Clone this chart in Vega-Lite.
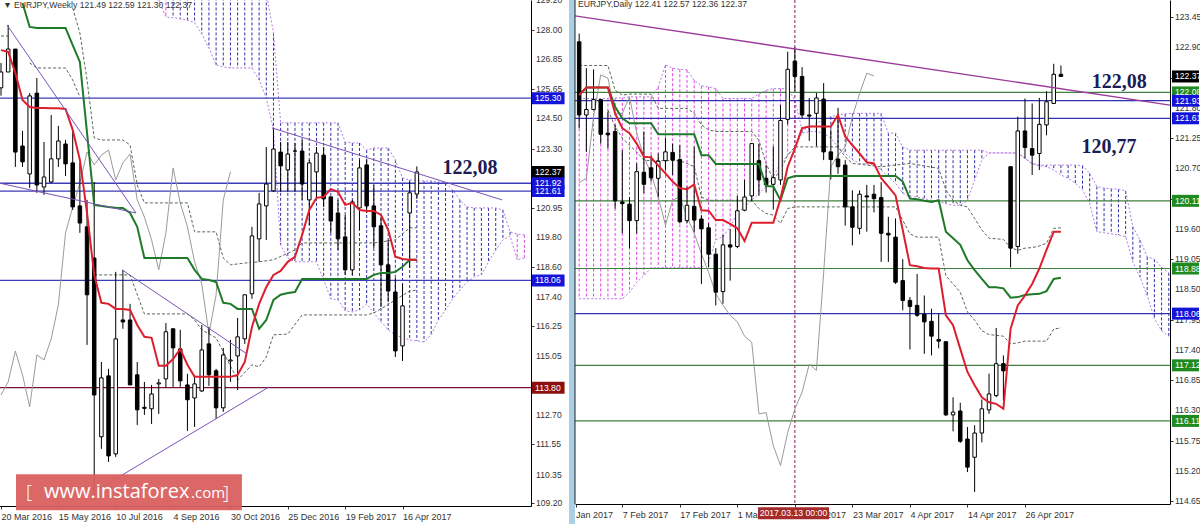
{"$schema":"https://vega.github.io/schema/vega-lite/v6.json","padding":{"left":-3,"top":-4,"right":0,"bottom":0},"background":"#ffffff","bounds":"flush","spacing":44,"config":{"view":{"stroke":null},"text":{"font":"Liberation Sans"},"axis":{"grid":false,"labelFont":"Liberation Sans","labelFontSize":9,"labelColor":"#333333","domainColor":"#000000","tickColor":"#333333","tickSize":3,"labelBound":false,"labelFlush":false,"title":null}},
"datasets":{
"wk":[{"i":0,"o":125.71,"h":126.7,"l":125.4,"c":126.34},{"i":1,"o":126.34,"h":128.21,"l":126.34,"c":127.25},{"i":2,"o":127.25,"h":127.25,"l":122.57,"c":123.16},{"i":3,"o":123.4,"h":124.0,"l":122.57,"c":122.77},{"i":4,"o":122.29,"h":125.5,"l":121.73,"c":125.39},{"i":5,"o":125.5,"h":126.1,"l":121.54,"c":121.85},{"i":6,"o":121.77,"h":123.56,"l":121.46,"c":122.17},{"i":7,"o":121.97,"h":124.63,"l":121.93,"c":122.89},{"i":8,"o":122.89,"h":124.2,"l":122.57,"c":123.6},{"i":9,"o":123.48,"h":123.64,"l":122.21,"c":122.69},{"i":10,"o":122.73,"h":124.04,"l":120.86,"c":120.98},{"i":11,"o":121.02,"h":122.73,"l":119.95,"c":120.34},{"i":12,"o":120.19,"h":121.26,"l":115.5,"c":117.49},{"i":13,"o":118.95,"h":121.97,"l":109.3,"c":113.51},{"i":14,"o":111.85,"h":114.82,"l":111.37,"c":114.19},{"i":15,"o":114.27,"h":114.55,"l":110.85,"c":111.09},{"i":16,"o":111.17,"h":118.4,"l":111.05,"c":115.74},{"i":17,"o":116.49,"h":118.48,"l":116.14,"c":116.41},{"i":18,"o":116.49,"h":117.13,"l":113.91,"c":113.91},{"i":19,"o":114.31,"h":114.82,"l":112.32,"c":112.92},{"i":20,"o":113.02,"h":114.03,"l":112.72,"c":112.98},{"i":21,"o":112.96,"h":113.91,"l":112.36,"c":113.55},{"i":22,"o":113.95,"h":114.15,"l":112.76,"c":113.99},{"i":23,"o":114.15,"h":116.37,"l":113.79,"c":116.02},{"i":24,"o":116.14,"h":116.14,"l":113.83,"c":115.38},{"i":25,"o":115.34,"h":116.1,"l":113.83,"c":114.07},{"i":26,"o":113.91,"h":114.35,"l":112.08,"c":113.32},{"i":27,"o":113.39,"h":114.31,"l":112.24,"c":113.95},{"i":28,"o":113.67,"h":116.29,"l":113.63,"c":115.3},{"i":29,"o":115.54,"h":116.21,"l":113.87,"c":114.31},{"i":30,"o":114.47,"h":114.55,"l":112.56,"c":113.0},{"i":31,"o":113.0,"h":115.38,"l":112.84,"c":115.1},{"i":32,"o":114.86,"h":115.7,"l":114.03,"c":114.9},{"i":33,"o":115.06,"h":116.57,"l":113.71,"c":115.82},{"i":34,"o":115.74,"h":117.49,"l":115.54,"c":117.49},{"i":35,"o":117.53,"h":120.19,"l":117.33,"c":119.83},{"i":36,"o":119.71,"h":121.54,"l":118.8,"c":121.1},{"i":37,"o":121.02,"h":123.36,"l":119.67,"c":121.89},{"i":38,"o":121.62,"h":124.12,"l":121.58,"c":123.28},{"i":39,"o":123.16,"h":123.56,"l":121.58,"c":122.61},{"i":40,"o":122.45,"h":123.56,"l":121.58,"c":123.08},{"i":41,"o":123.2,"h":123.52,"l":121.58,"c":123.2},{"i":42,"o":123.2,"h":123.64,"l":121.26,"c":121.89},{"i":43,"o":121.26,"h":122.85,"l":120.26,"c":122.73},{"i":44,"o":122.37,"h":123.36,"l":121.26,"c":123.12},{"i":45,"o":123.04,"h":123.36,"l":120.98,"c":121.3},{"i":46,"o":121.38,"h":121.38,"l":119.95,"c":120.42},{"i":47,"o":120.74,"h":121.26,"l":119.27,"c":119.71},{"i":48,"o":119.79,"h":120.66,"l":118.28,"c":118.48},{"i":49,"o":118.48,"h":121.26,"l":118.28,"c":121.18},{"i":50,"o":120.94,"h":122.85,"l":120.07,"c":122.53},{"i":51,"o":122.65,"h":122.89,"l":120.74,"c":121.02},{"i":52,"o":121.02,"h":121.85,"l":119.35,"c":120.19},{"i":53,"o":120.23,"h":120.58,"l":117.01,"c":118.68},{"i":54,"o":118.68,"h":119.67,"l":117.21,"c":117.64},{"i":55,"o":117.6,"h":118.16,"l":115.02,"c":115.26},{"i":56,"o":115.46,"h":117.92,"l":114.86,"c":117.05},{"i":57,"o":120.74,"h":121.97,"l":118.56,"c":121.54},{"i":58,"o":121.49,"h":122.59,"l":121.3,"c":122.37}],
"wkT":[{"i":0,"v":127.21},{"i":1,"v":127.14},{"i":2,"v":126.3},{"i":3,"v":125.23},{"i":4,"v":124.95},{"i":5,"v":124.91},{"i":6,"v":124.91},{"i":7,"v":124.9},{"i":8,"v":124.9},{"i":9,"v":124.87},{"i":10,"v":124.04},{"i":11,"v":122.85},{"i":12,"v":120.74},{"i":13,"v":118.28},{"i":14,"v":117.17},{"i":15,"v":117.13},{"i":16,"v":116.93},{"i":17,"v":116.93},{"i":18,"v":116.89},{"i":19,"v":116.29},{"i":20,"v":115.82},{"i":21,"v":115.78},{"i":22,"v":114.67},{"i":23,"v":114.67},{"i":24,"v":114.94},{"i":25,"v":115.34},{"i":26,"v":114.71},{"i":27,"v":114.23},{"i":28,"v":114.23},{"i":32,"v":114.23},{"i":33,"v":114.31},{"i":34,"v":114.82},{"i":35,"v":116.21},{"i":36,"v":117.13},{"i":37,"v":117.8},{"i":38,"v":118.28},{"i":39,"v":118.44},{"i":40,"v":118.8},{"i":41,"v":119.0},{"i":42,"v":119.87},{"i":43,"v":120.86},{"i":44,"v":121.34},{"i":45,"v":121.38},{"i":46,"v":121.69},{"i":47,"v":121.58},{"i":48,"v":121.06},{"i":49,"v":121.14},{"i":50,"v":120.86},{"i":51,"v":120.82},{"i":52,"v":120.82},{"i":53,"v":120.66},{"i":54,"v":120.07},{"i":55,"v":119.0},{"i":56,"v":118.91},{"i":57,"v":118.88},{"i":58,"v":118.88}],
"wkK":[{"i":3,"v":129.08},{"i":4,"v":128.13},{"i":5,"v":128.09},{"i":9,"v":128.09},{"i":10,"v":127.41},{"i":11,"v":126.74},{"i":12,"v":123.92},{"i":13,"v":121.06},{"i":14,"v":121.02},{"i":15,"v":120.98},{"i":16,"v":120.95},{"i":17,"v":120.94},{"i":18,"v":120.74},{"i":19,"v":120.19},{"i":20,"v":118.95},{"i":26,"v":118.95},{"i":27,"v":118.48},{"i":28,"v":118.12},{"i":29,"v":118.08},{"i":30,"v":118.0},{"i":31,"v":117.17},{"i":32,"v":117.13},{"i":33,"v":116.93},{"i":35,"v":116.93},{"i":36,"v":116.14},{"i":37,"v":116.49},{"i":38,"v":117.29},{"i":39,"v":117.49},{"i":40,"v":117.56},{"i":41,"v":117.6},{"i":42,"v":118.12},{"i":51,"v":118.12},{"i":52,"v":118.28},{"i":53,"v":118.36},{"i":54,"v":118.36},{"i":55,"v":118.4},{"i":56,"v":118.6},{"i":57,"v":118.88},{"i":58,"v":118.88}],
"wkC":[{"i":0,"v":113.51},{"i":1,"v":114.03},{"i":2,"v":115.26},{"i":3,"v":114.31},{"i":4,"v":113.04},{"i":5,"v":115.1},{"i":6,"v":114.9},{"i":7,"v":115.74},{"i":8,"v":117.09},{"i":9,"v":119.95},{"i":10,"v":120.98},{"i":11,"v":121.93},{"i":12,"v":123.16},{"i":13,"v":122.65},{"i":14,"v":123.04},{"i":15,"v":123.24},{"i":16,"v":122.05},{"i":17,"v":122.73},{"i":18,"v":123.08},{"i":19,"v":121.26},{"i":20,"v":120.58},{"i":21,"v":119.67},{"i":22,"v":118.48},{"i":23,"v":119.95},{"i":24,"v":122.53},{"i":25,"v":121.14},{"i":26,"v":120.19},{"i":27,"v":118.8},{"i":28,"v":117.92},{"i":29,"v":115.94},{"i":30,"v":117.49},{"i":31,"v":121.26},{"i":32,"v":122.37}],
"wkD":[{"g":"a","i":0,"v":127.77},{"g":"a","i":1,"v":127.77},{"g":"b","i":4,"v":126.7},{"g":"b","i":5,"v":126.5},{"g":"b","i":9,"v":126.5},{"g":"b","i":10,"v":126.02},{"g":"b","i":11,"v":125.35},{"g":"c","i":10,"v":128.88},{"g":"c","i":11,"v":127.89},{"g":"c","i":12,"v":126.02},{"g":"c","i":13,"v":123.72},{"g":"c","i":14,"v":123.64},{"g":"c","i":17,"v":123.64},{"g":"c","i":18,"v":123.44},{"g":"c","i":19,"v":121.85},{"g":"c","i":20,"v":121.14},{"g":"c","i":26,"v":121.14},{"g":"c","i":27,"v":119.99},{"g":"c","i":30,"v":119.99},{"g":"c","i":31,"v":118.95},{"g":"c","i":32,"v":118.68},{"g":"c","i":34,"v":118.75},{"g":"c","i":36,"v":118.8},{"g":"c","i":38,"v":118.88},{"g":"c","i":41,"v":119.27},{"g":"c","i":42,"v":119.55},{"g":"c","i":52,"v":119.55},{"g":"c","i":55,"v":119.67},{"g":"c","i":57,"v":120.15},{"g":"c","i":58,"v":120.15},{"g":"d","i":13,"v":118.28},{"g":"d","i":18,"v":118.28},{"g":"d","i":20,"v":116.73},{"g":"d","i":26,"v":116.73},{"g":"d","i":27,"v":116.49},{"g":"d","i":28,"v":116.1},{"g":"d","i":30,"v":115.78},{"g":"d","i":33,"v":114.1},{"g":"d","i":35,"v":114.71},{"g":"d","i":36,"v":114.63},{"g":"d","i":37,"v":115.02},{"g":"d","i":38,"v":115.9},{"g":"d","i":40,"v":115.93},{"g":"d","i":42,"v":116.69},{"g":"d","i":51,"v":116.69},{"g":"d","i":52,"v":116.77},{"g":"d","i":54,"v":117.1},{"g":"d","i":55,"v":117.29},{"g":"d","i":57,"v":117.64},{"g":"d","i":58,"v":117.68}],
"wkCloud":[{"i":22,"top":129.5,"bot":129.2,"k":"m"},{"i":23,"top":129.5,"bot":128.52,"k":"m"},{"i":24,"top":129.5,"bot":128.5,"k":"b"},{"i":25,"top":129.5,"bot":128.45,"k":"b"},{"i":26,"top":129.5,"bot":128.4,"k":"b"},{"i":27,"top":129.5,"bot":128.3,"k":"b"},{"i":28,"top":129.5,"bot":127.85,"k":"b"},{"i":29,"top":129.5,"bot":127.29,"k":"b"},{"i":30,"top":129.5,"bot":126.62,"k":"b"},{"i":31,"top":129.5,"bot":126.54,"k":"b"},{"i":32,"top":129.5,"bot":126.5,"k":"b"},{"i":33,"top":129.5,"bot":126.5,"k":"b"},{"i":34,"top":129.5,"bot":126.5,"k":"b"},{"i":35,"top":129.5,"bot":126.5,"k":"b"},{"i":36,"top":129.5,"bot":126.02,"k":"b"},{"i":37,"top":129.5,"bot":125.31,"k":"b"},{"i":38,"top":127.9,"bot":124.04,"k":"b"},{"i":39,"top":124.32,"bot":119.47,"k":"b"},{"i":40,"top":124.32,"bot":118.95,"k":"b"},{"i":41,"top":124.32,"bot":118.8,"k":"b"},{"i":42,"top":124.32,"bot":118.8,"k":"b"},{"i":43,"top":124.32,"bot":118.8,"k":"b"},{"i":44,"top":124.32,"bot":118.8,"k":"b"},{"i":45,"top":124.32,"bot":118.08,"k":"b"},{"i":46,"top":124.32,"bot":117.33,"k":"b"},{"i":47,"top":124.32,"bot":117.29,"k":"b"},{"i":48,"top":123.56,"bot":116.85,"k":"b"},{"i":49,"top":123.52,"bot":116.81,"k":"b"},{"i":50,"top":123.52,"bot":116.89,"k":"b"},{"i":51,"top":123.24,"bot":117.13,"k":"b"},{"i":52,"top":123.32,"bot":116.77,"k":"b"},{"i":53,"top":123.32,"bot":116.41,"k":"b"},{"i":54,"top":123.32,"bot":116.1,"k":"b"},{"i":55,"top":122.85,"bot":115.9,"k":"b"},{"i":56,"top":122.13,"bot":115.78,"k":"b"},{"i":57,"top":122.05,"bot":115.7,"k":"b"},{"i":58,"top":122.05,"bot":115.66,"k":"b"},{"i":59,"top":122.01,"bot":115.62,"k":"b"},{"i":60,"top":122.01,"bot":115.9,"k":"b"},{"i":61,"top":121.97,"bot":116.49,"k":"b"},{"i":62,"top":121.93,"bot":116.89,"k":"b"},{"i":63,"top":121.65,"bot":117.33,"k":"b"},{"i":64,"top":121.26,"bot":117.68,"k":"b"},{"i":65,"top":120.98,"bot":118,"k":"b"},{"i":66,"top":120.94,"bot":118.2,"k":"b"},{"i":67,"top":120.94,"bot":118.28,"k":"b"},{"i":68,"top":120.94,"bot":118.8,"k":"b"},{"i":69,"top":120.94,"bot":119.27,"k":"b"},{"i":70,"top":120.86,"bot":119.67,"k":"b"},{"i":71,"top":119.99,"bot":119.83,"k":"b"},{"i":72,"top":119.9,"bot":118.88,"k":"m"},{"i":73,"top":119.87,"bot":118.95,"k":"m"}],
"wkTrend":[{"g":"1","i":0.84,"v":128.21},{"g":"1","i":18.83,"v":120.74},{"g":"2","i":-0.28,"v":121.93},{"g":"2","i":18.83,"v":120.74},{"g":"3","i":16.88,"v":118.48},{"g":"3","i":34.31,"v":115.14},{"g":"4","i":13.67,"v":109.78},{"g":"4","i":37.38,"v":113.83},{"g":"5","i":37.8,"v":124.12},{"g":"5","i":69.87,"v":121.26}],
"wkLev":[{"p":125.3,"t":"125.30","k":"b"},{"p":121.92,"t":"121.92","k":"b"},{"p":121.61,"t":"121.61","k":"b"},{"p":118.06,"t":"118.06","k":"b"},{"p":113.8,"t":"113.80","k":"r"}],
"wkTicks":[{"i":74.62,"p":129.2,"t":"129.20"},{"i":74.62,"p":128,"t":"128.00"},{"i":74.62,"p":126.85,"t":"126.85"},{"i":74.62,"p":125.65,"t":"125.65"},{"i":74.62,"p":124.5,"t":"124.50"},{"i":74.62,"p":123.3,"t":"123.30"},{"i":74.62,"p":120.95,"t":"120.95"},{"i":74.62,"p":119.8,"t":"119.80"},{"i":74.62,"p":118.6,"t":"118.60"},{"i":74.62,"p":117.4,"t":"117.40"},{"i":74.62,"p":116.25,"t":"116.25"},{"i":74.62,"p":115.05,"t":"115.05"},{"i":74.62,"p":112.7,"t":"112.70"},{"i":74.62,"p":111.55,"t":"111.55"},{"i":74.62,"p":110.35,"t":"110.35"},{"i":74.62,"p":109.2,"t":"109.20"}],
"dyTicks":[{"i":84.86,"p":123.45,"t":"123.45"},{"i":84.86,"p":122.9,"t":"122.90"},{"i":84.86,"p":121.8,"t":"121.80"},{"i":84.86,"p":121.25,"t":"121.25"},{"i":84.86,"p":120.7,"t":"120.70"},{"i":84.86,"p":119.6,"t":"119.60"},{"i":84.86,"p":119.05,"t":"119.05"},{"i":84.86,"p":118.5,"t":"118.50"},{"i":84.86,"p":117.95,"t":"117.95"},{"i":84.86,"p":117.4,"t":"117.40"},{"i":84.86,"p":116.85,"t":"116.85"},{"i":84.86,"p":116.3,"t":"116.30"},{"i":84.86,"p":115.75,"t":"115.75"},{"i":84.86,"p":115.2,"t":"115.20"},{"i":84.86,"p":114.65,"t":"114.65"}],
"dy":[{"i":2,"o":123.0,"h":123.15,"l":121.43,"c":121.67},{"i":3,"o":121.67,"h":122.52,"l":121.0,"c":121.77},{"i":4,"o":121.77,"h":122.5,"l":121.76,"c":121.95},{"i":5,"o":121.95,"h":121.95,"l":121.15,"c":121.32},{"i":6,"o":121.34,"h":121.73,"l":121.06,"c":121.31},{"i":7,"o":121.37,"h":121.49,"l":119.97,"c":120.11},{"i":8,"o":120.09,"h":121.03,"l":119.52,"c":120.06},{"i":9,"o":120.05,"h":120.18,"l":119.25,"c":119.75},{"i":10,"o":119.75,"h":120.79,"l":119.52,"c":120.64},{"i":11,"o":120.63,"h":121.37,"l":120.25,"c":120.41},{"i":12,"o":120.71,"h":120.94,"l":120.46,"c":120.53},{"i":13,"o":120.52,"h":120.97,"l":120.18,"c":120.83},{"i":14,"o":120.84,"h":121.25,"l":120.67,"c":121.0},{"i":15,"o":120.99,"h":121.15,"l":120.58,"c":120.85},{"i":16,"o":120.86,"h":121.12,"l":119.7,"c":119.73},{"i":17,"o":119.75,"h":120.37,"l":119.7,"c":120.03},{"i":18,"o":120.01,"h":121.09,"l":119.55,"c":119.76},{"i":19,"o":119.78,"h":119.85,"l":118.6,"c":119.6},{"i":20,"o":119.62,"h":119.7,"l":118.9,"c":119.14},{"i":21,"o":119.14,"h":119.25,"l":118.21,"c":118.45},{"i":22,"o":118.46,"h":119.49,"l":118.24,"c":119.31},{"i":23,"o":119.31,"h":119.6,"l":118.66,"c":119.27},{"i":24,"o":119.28,"h":120.2,"l":119.25,"c":119.93},{"i":25,"o":119.94,"h":120.49,"l":119.92,"c":120.18},{"i":26,"o":120.2,"h":121.15,"l":120.1,"c":121.15},{"i":27,"o":120.84,"h":121.15,"l":120.2,"c":120.49},{"i":28,"o":120.52,"h":120.76,"l":120.26,"c":120.4},{"i":29,"o":120.41,"h":121.1,"l":119.95,"c":120.53},{"i":30,"o":120.49,"h":121.85,"l":120.4,"c":121.57},{"i":31,"o":121.59,"h":122.82,"l":121.5,"c":122.5},{"i":32,"o":122.65,"h":122.9,"l":122.1,"c":122.37},{"i":33,"o":122.37,"h":122.54,"l":121.61,"c":121.67},{"i":34,"o":121.67,"h":121.98,"l":121.2,"c":121.65},{"i":35,"o":121.7,"h":122.07,"l":121.1,"c":121.98},{"i":36,"o":121.96,"h":122.25,"l":120.85,"c":121.0},{"i":37,"o":121.0,"h":121.4,"l":120.5,"c":120.86},{"i":38,"o":120.87,"h":121.8,"l":120.6,"c":120.73},{"i":39,"o":120.76,"h":120.85,"l":119.66,"c":120.0},{"i":40,"o":120.0,"h":120.3,"l":119.3,"c":119.63},{"i":41,"o":119.61,"h":120.3,"l":119.5,"c":120.23},{"i":42,"o":120.2,"h":120.4,"l":119.55,"c":120.18},{"i":43,"o":120.23,"h":120.4,"l":119.9,"c":120.15},{"i":44,"o":120.17,"h":120.45,"l":119.0,"c":119.52},{"i":45,"o":119.52,"h":119.82,"l":119.0,"c":119.49},{"i":46,"o":119.45,"h":119.79,"l":118.6,"c":118.63},{"i":47,"o":118.66,"h":119.05,"l":118.12,"c":118.3},{"i":48,"o":118.3,"h":118.36,"l":117.41,"c":118.19},{"i":49,"o":118.21,"h":118.78,"l":118.0,"c":118.03},{"i":50,"o":118.05,"h":118.39,"l":117.33,"c":117.91},{"i":51,"o":117.92,"h":118.15,"l":117.3,"c":117.65},{"i":52,"o":117.59,"h":118.06,"l":117.43,"c":117.56},{"i":53,"o":117.55,"h":117.55,"l":116.2,"c":116.22},{"i":54,"o":116.22,"h":116.54,"l":115.92,"c":116.27},{"i":55,"o":116.29,"h":116.44,"l":115.71,"c":115.74},{"i":56,"o":115.78,"h":116.0,"l":115.18,"c":115.27},{"i":57,"o":115.45,"h":116.03,"l":114.82,"c":115.89},{"i":58,"o":115.89,"h":116.5,"l":115.72,"c":116.33},{"i":59,"o":116.31,"h":116.97,"l":116.24,"c":116.6},{"i":60,"o":116.57,"h":117.8,"l":116.54,"c":117.15},{"i":61,"o":117.15,"h":117.3,"l":116.48,"c":117.02},{"i":62,"o":120.73,"h":120.73,"l":118.9,"c":119.25},{"i":63,"o":119.28,"h":121.64,"l":119.15,"c":121.38},{"i":64,"o":121.38,"h":121.97,"l":120.88,"c":121.08},{"i":65,"o":121.06,"h":121.88,"l":120.58,"c":120.94},{"i":66,"o":120.97,"h":121.98,"l":120.67,"c":121.5},{"i":67,"o":121.49,"h":122.1,"l":121.3,"c":121.91},{"i":68,"o":121.88,"h":122.6,"l":121.88,"c":122.41},{"i":69,"o":122.41,"h":122.57,"l":122.36,"c":122.37}],
"dyT":[{"i":2,"v":122.03},{"i":3,"v":122.17},{"i":6,"v":122.17},{"i":7,"v":121.7},{"i":8,"v":121.43},{"i":9,"v":121.34},{"i":10,"v":121.15},{"i":11,"v":120.91},{"i":12,"v":120.9},{"i":13,"v":120.75},{"i":14,"v":120.61},{"i":15,"v":120.46},{"i":16,"v":120.34},{"i":17,"v":120.32},{"i":18,"v":120.41},{"i":19,"v":119.94},{"i":20,"v":119.93},{"i":21,"v":119.76},{"i":22,"v":119.76},{"i":23,"v":119.69},{"i":24,"v":119.61},{"i":25,"v":119.38},{"i":26,"v":119.71},{"i":29,"v":119.71},{"i":30,"v":120.15},{"i":31,"v":120.73},{"i":32,"v":121.06},{"i":33,"v":121.43},{"i":34,"v":121.46},{"i":37,"v":121.46},{"i":38,"v":121.67},{"i":39,"v":121.28},{"i":40,"v":121.12},{"i":41,"v":120.97},{"i":42,"v":120.81},{"i":43,"v":120.79},{"i":44,"v":120.52},{"i":45,"v":120.37},{"i":46,"v":120.21},{"i":47,"v":119.58},{"i":48,"v":118.94},{"i":49,"v":118.92},{"i":50,"v":118.89},{"i":51,"v":118.88},{"i":52,"v":118.88},{"i":53,"v":118.03},{"i":54,"v":117.85},{"i":55,"v":117.42},{"i":56,"v":117.0},{"i":57,"v":116.76},{"i":58,"v":116.54},{"i":59,"v":116.45},{"i":60,"v":116.42},{"i":61,"v":116.33},{"i":62,"v":117.78},{"i":63,"v":118.21},{"i":64,"v":118.39},{"i":65,"v":118.6},{"i":66,"v":118.88},{"i":67,"v":119.22},{"i":68,"v":119.55},{"i":69,"v":119.55}],
"dyK":[{"i":2,"v":122.03},{"i":3,"v":122.17},{"i":6,"v":122.17},{"i":7,"v":121.82},{"i":8,"v":121.61},{"i":9,"v":121.52},{"i":12,"v":121.52},{"i":13,"v":121.32},{"i":18,"v":121.32},{"i":19,"v":120.94},{"i":20,"v":120.94},{"i":21,"v":120.78},{"i":27,"v":120.78},{"i":28,"v":120.38},{"i":29,"v":120.37},{"i":30,"v":120.12},{"i":31,"v":120.52},{"i":32,"v":120.56},{"i":46,"v":120.56},{"i":47,"v":120.46},{"i":48,"v":120.15},{"i":49,"v":120.14},{"i":50,"v":120.11},{"i":51,"v":120.09},{"i":52,"v":120.12},{"i":53,"v":119.55},{"i":54,"v":119.43},{"i":55,"v":119.31},{"i":56,"v":119.03},{"i":57,"v":118.85},{"i":58,"v":118.69},{"i":59,"v":118.54},{"i":60,"v":118.54},{"i":61,"v":118.52},{"i":62,"v":118.35},{"i":63,"v":118.36},{"i":64,"v":118.4},{"i":65,"v":118.41},{"i":66,"v":118.42},{"i":67,"v":118.47},{"i":68,"v":118.69},{"i":69,"v":118.71}],
"dyC":[{"i":2,"v":120.44},{"i":3,"v":120.52},{"i":4,"v":121.64},{"i":5,"v":122.4},{"i":6,"v":122.34},{"i":7,"v":121.7},{"i":8,"v":121.7},{"i":9,"v":122.0},{"i":10,"v":121.34},{"i":11,"v":120.91},{"i":12,"v":120.61},{"i":13,"v":120.18},{"i":14,"v":119.67},{"i":15,"v":120.12},{"i":16,"v":120.18},{"i":17,"v":119.82},{"i":18,"v":119.52},{"i":19,"v":119.15},{"i":20,"v":118.81},{"i":21,"v":118.42},{"i":22,"v":118.21},{"i":23,"v":118.03},{"i":24,"v":117.91},{"i":25,"v":117.65},{"i":26,"v":117.54},{"i":27,"v":116.24},{"i":28,"v":116.26},{"i":29,"v":115.66},{"i":30,"v":115.3},{"i":31,"v":115.9},{"i":32,"v":116.33},{"i":33,"v":116.63},{"i":34,"v":117.14},{"i":35,"v":117.03},{"i":36,"v":118.8},{"i":37,"v":120.73},{"i":38,"v":120.94},{"i":39,"v":121.09},{"i":40,"v":121.64},{"i":41,"v":122.06},{"i":42,"v":122.43},{"i":43,"v":122.38}],
"dyD":[{"g":"a","i":2,"v":122.57},{"g":"a","i":6,"v":122.57},{"g":"a","i":7,"v":122.12},{"g":"a","i":8,"v":122.03},{"g":"a","i":9,"v":122.05},{"g":"a","i":12,"v":122.05},{"g":"a","i":13,"v":121.79},{"g":"a","i":17,"v":121.79},{"g":"a","i":18,"v":121.7},{"g":"a","i":19,"v":121.49},{"g":"a","i":20,"v":121.4},{"g":"a","i":21,"v":121.37},{"g":"a","i":26,"v":121.37},{"g":"a","i":27,"v":121.21},{"g":"a","i":28,"v":120.79},{"g":"a","i":29,"v":120.49},{"g":"a","i":30,"v":120.67},{"g":"a","i":31,"v":120.94},{"g":"a","i":32,"v":121.09},{"g":"a","i":38,"v":121.09},{"g":"a","i":39,"v":120.91},{"g":"a","i":40,"v":120.79},{"g":"a","i":44,"v":120.73},{"g":"a","i":48,"v":120.79},{"g":"a","i":52,"v":120.7},{"g":"a","i":53,"v":120.31},{"g":"a","i":54,"v":120.12},{"g":"a","i":55,"v":120.03},{"g":"a","i":56,"v":120.0},{"g":"a","i":57,"v":119.79},{"g":"a","i":58,"v":119.58},{"g":"a","i":59,"v":119.43},{"g":"a","i":61,"v":119.41},{"g":"a","i":62,"v":119.26},{"g":"a","i":63,"v":119.21},{"g":"a","i":64,"v":119.25},{"g":"a","i":65,"v":119.26},{"g":"a","i":66,"v":119.29},{"g":"a","i":67,"v":119.34},{"g":"a","i":68,"v":119.61},{"g":"a","i":69,"v":119.62},{"g":"b","i":6,"v":121.76},{"g":"b","i":7,"v":121.46},{"g":"b","i":8,"v":121.25},{"g":"b","i":9,"v":121.12},{"g":"b","i":10,"v":121.0},{"g":"b","i":11,"v":120.85},{"g":"b","i":12,"v":120.84},{"g":"b","i":16,"v":120.84},{"g":"b","i":17,"v":120.79},{"g":"b","i":18,"v":120.73},{"g":"b","i":19,"v":120.18},{"g":"b","i":20,"v":120.12},{"g":"b","i":26,"v":120.12},{"g":"b","i":27,"v":119.97},{"g":"b","i":28,"v":119.88},{"g":"b","i":29,"v":119.85},{"g":"b","i":30,"v":119.7},{"g":"b","i":31,"v":119.97},{"g":"b","i":32,"v":120.0},{"g":"b","i":46,"v":120.0},{"g":"b","i":47,"v":119.76},{"g":"b","i":48,"v":119.51},{"g":"b","i":49,"v":119.45},{"g":"b","i":52,"v":119.45},{"g":"b","i":53,"v":118.75},{"g":"b","i":54,"v":118.6},{"g":"b","i":55,"v":118.45},{"g":"b","i":56,"v":118.09},{"g":"b","i":57,"v":117.94},{"g":"b","i":58,"v":117.75},{"g":"b","i":59,"v":117.68},{"g":"b","i":61,"v":117.65},{"g":"b","i":62,"v":117.51},{"g":"b","i":63,"v":117.53},{"g":"b","i":64,"v":117.56},{"g":"b","i":67,"v":117.56},{"g":"b","i":68,"v":117.78},{"g":"b","i":69,"v":117.8}],
"dyCloud":[{"i":2,"top":121.97,"bot":118.33,"k":"m"},{"i":3,"top":121.97,"bot":118.33,"k":"m"},{"i":4,"top":121.97,"bot":118.33,"k":"m"},{"i":5,"top":121.97,"bot":118.33,"k":"m"},{"i":6,"top":121.97,"bot":118.33,"k":"m"},{"i":7,"top":121.98,"bot":118.33,"k":"m"},{"i":8,"top":121.98,"bot":118.33,"k":"m"},{"i":9,"top":122.0,"bot":118.45,"k":"m"},{"i":10,"top":122.0,"bot":118.63,"k":"m"},{"i":11,"top":122.0,"bot":118.75,"k":"m"},{"i":12,"top":122.0,"bot":118.89,"k":"m"},{"i":13,"top":122.18,"bot":118.9,"k":"m"},{"i":14,"top":122.58,"bot":118.9,"k":"m"},{"i":15,"top":122.52,"bot":118.9,"k":"m"},{"i":16,"top":122.5,"bot":118.9,"k":"m"},{"i":17,"top":122.49,"bot":118.9,"k":"m"},{"i":18,"top":122.3,"bot":118.9,"k":"m"},{"i":19,"top":122.2,"bot":118.9,"k":"m"},{"i":20,"top":122.18,"bot":119.0,"k":"m"},{"i":21,"top":122.15,"bot":119.4,"k":"m"},{"i":22,"top":121.97,"bot":119.46,"k":"m"},{"i":23,"top":121.97,"bot":119.64,"k":"m"},{"i":24,"top":121.97,"bot":119.88,"k":"m"},{"i":25,"top":121.97,"bot":120.0,"k":"m"},{"i":26,"top":121.97,"bot":120.12,"k":"m"},{"i":27,"top":122.05,"bot":120.24,"k":"m"},{"i":28,"top":122.12,"bot":120.37,"k":"m"},{"i":29,"top":122.15,"bot":120.55,"k":"m"},{"i":30,"top":122.15,"bot":120.79,"k":"m"},{"i":31,"top":122.15,"bot":120.94,"k":"m"},{"i":32,"top":121.94,"bot":121.09,"k":"m"},{"i":33,"top":121.4,"bot":121.34,"k":"b"},{"i":34,"top":121.43,"bot":121.37,"k":"b"},{"i":35,"top":121.52,"bot":121.37,"k":"b"},{"i":36,"top":121.58,"bot":121.34,"k":"b"},{"i":37,"top":121.64,"bot":121.25,"k":"b"},{"i":38,"top":121.67,"bot":121.09,"k":"b"},{"i":39,"top":121.69,"bot":120.97,"k":"b"},{"i":40,"top":121.7,"bot":120.86,"k":"b"},{"i":41,"top":121.7,"bot":120.79,"k":"b"},{"i":42,"top":121.7,"bot":120.78,"k":"b"},{"i":43,"top":121.7,"bot":120.76,"k":"b"},{"i":44,"top":121.7,"bot":120.67,"k":"b"},{"i":45,"top":121.34,"bot":120.55,"k":"b"},{"i":46,"top":121.34,"bot":120.43,"k":"b"},{"i":47,"top":121.09,"bot":120.25,"k":"b"},{"i":48,"top":121.03,"bot":120.18,"k":"b"},{"i":49,"top":121.03,"bot":120.18,"k":"b"},{"i":50,"top":121.03,"bot":120.15,"k":"b"},{"i":51,"top":121.03,"bot":120.12,"k":"b"},{"i":52,"top":121.03,"bot":120.09,"k":"b"},{"i":53,"top":121.03,"bot":120.06,"k":"b"},{"i":54,"top":121.03,"bot":120.03,"k":"b"},{"i":55,"top":121.03,"bot":120.03,"k":"b"},{"i":56,"top":121.03,"bot":120.12,"k":"b"},{"i":57,"top":121.03,"bot":120.49,"k":"b"},{"i":58,"top":121.03,"bot":120.85,"k":"b"},{"i":59,"top":120.98,"bot":120.98,"k":"b"},{"i":63,"top":120.98,"bot":120.98,"k":"b"},{"i":65,"top":120.79,"bot":120.78,"k":"b"},{"i":66,"top":120.76,"bot":120.75,"k":"b"},{"i":67,"top":120.76,"bot":120.73,"k":"b"},{"i":68,"top":120.76,"bot":120.67,"k":"b"},{"i":69,"top":120.76,"bot":120.58,"k":"b"},{"i":70,"top":120.76,"bot":120.52,"k":"b"},{"i":71,"top":120.76,"bot":120.43,"k":"b"},{"i":72,"top":120.75,"bot":120.31,"k":"b"},{"i":73,"top":120.61,"bot":120.06,"k":"b"},{"i":74,"top":120.37,"bot":119.55,"k":"b"},{"i":75,"top":120.34,"bot":119.53,"k":"b"},{"i":76,"top":120.33,"bot":119.51,"k":"b"},{"i":77,"top":120.32,"bot":119.49,"k":"b"},{"i":78,"top":120.29,"bot":119.46,"k":"b"},{"i":79,"top":119.64,"bot":119.0,"k":"b"},{"i":80,"top":119.4,"bot":118.72,"k":"b"},{"i":81,"top":119.09,"bot":118.39,"k":"b"},{"i":82,"top":119.05,"bot":117.97,"k":"b"},{"i":83,"top":118.9,"bot":117.75,"k":"b"},{"i":84,"top":118.8,"bot":117.65,"k":"b"}],
"dyTrend":[{"i":1.42,"v":123.47},{"i":84.17,"v":121.85}],
"dyLev":[{"p":122.08,"t":"122.08","k":"g"},{"p":121.93,"t":"121.93","k":"b"},{"p":121.61,"t":"121.61","k":"b"},{"p":120.11,"t":"120.11","k":"g"},{"p":118.88,"t":"118.88","k":"g"},{"p":118.06,"t":"118.06","k":"b"},{"p":117.12,"t":"117.12","k":"g"},{"p":116.11,"t":"116.11","k":"g"}]
},
"hconcat":[
{"width":532,"height":506,
"encoding":{"x":{"field":"i","type":"quantitative","title":null,"scale":{"domain":[-0.28,73.92],"nice":false,"zero":false,"padding":0},"axis":{"values":[0,8,16,24,32,40,48,56],"labelAlign":"left","labelPadding":3,"labelOverlap":false,"labelExpr":"['20 Mar 2016','15 May 2016','10 Jul 2016','4 Sep 2016','30 Oct 2016','25 Dec 2016','19 Feb 2017','16 Apr 2017'][datum.value/8]"}}},
"layer":[
{"data":{"name":"wkCloud"},"mark":{"type":"rule","strokeDash":[3,2],"strokeWidth":1,"clip":true},"encoding":{"y":{"field":"top","type":"quantitative","title":null,"scale":{"domain":[109.1,129.2],"nice":false,"zero":false},"axis":{"orient":"right","values":[129.2,128,126.85,125.65,124.5,123.3,122.1,120.95,119.8,118.6,117.4,116.25,115.05,113.85,112.7,111.55,110.35,109.2],"labels":false}},"y2":{"field":"bot"},"color":{"condition":{"test":"datum.k=='m'","value":"#d94ae0"},"value":"#2f2fa8"}}},
{"data":{"name":"wkCloud"},"mark":{"type":"line","strokeDash":[2,2],"strokeWidth":1,"color":"#b57ae6","clip":true},"encoding":{"y":{"field":"top","type":"quantitative","title":null}}},
{"data":{"name":"wkCloud"},"mark":{"type":"line","strokeDash":[2,2],"strokeWidth":1,"color":"#b57ae6","clip":true},"encoding":{"y":{"field":"bot","type":"quantitative","title":null}}},
{"data":{"name":"wkLev"},"mark":{"type":"rule","strokeWidth":1.3},"encoding":{"x":null,"y":{"field":"p","type":"quantitative","title":null},"color":{"condition":{"test":"datum.k=='r'","value":"#7a1036"},"value":"#3d3db8"}}},
{"data":{"name":"wkC"},"mark":{"type":"line","strokeWidth":1,"color":"#9a9a9a","clip":true},"encoding":{"y":{"field":"v","type":"quantitative","title":null}}},
{"data":{"name":"wkD"},"mark":{"type":"line","strokeWidth":1,"strokeDash":[3,2],"color":"#566b56","clip":true},"encoding":{"detail":{"field":"g"},"y":{"field":"v","type":"quantitative","title":null}}},
{"data":{"name":"wk"},"mark":{"type":"rule","color":"#000000","strokeWidth":1,"clip":true},"encoding":{"y":{"field":"h","type":"quantitative","title":null},"y2":{"field":"l"}}},
{"data":{"name":"wk"},"mark":{"type":"bar","orient":"vertical","size":3.5,"stroke":"#000000","strokeWidth":1,"clip":true},"encoding":{"y":{"field":"o","type":"quantitative","title":null},"y2":{"field":"c"},"color":{"condition":{"test":"datum.c>=datum.o","value":"#ffffff"},"value":"#000000"}}},
{"data":{"name":"wkK"},"mark":{"type":"line","strokeWidth":2,"color":"#1e7a28","clip":true},"encoding":{"y":{"field":"v","type":"quantitative","title":null}}},
{"data":{"name":"wkT"},"mark":{"type":"line","strokeWidth":2,"color":"#dd1f2d","clip":true},"encoding":{"y":{"field":"v","type":"quantitative","title":null}}},
{"data":{"name":"wkTrend"},"mark":{"type":"line","strokeWidth":1,"color":"#7b52b8","clip":true},"encoding":{"detail":{"field":"g"},"y":{"field":"v","type":"quantitative","title":null}}},
{"data":{"values":[{"i":2.09,"i2":33.6,"p":109.65}]},"mark":{"type":"rule","color":"#d9605f","strokeWidth":36,"opacity":0.95},"encoding":{"x2":{"field":"i2"},"y":{"field":"p","type":"quantitative","title":null}}},
{"data":{"values":[{"i":6.0,"p":109.65,"t":"www.instaforex"}]},"mark":{"type":"text","align":"left","baseline":"middle","font":"Open Sans","fontSize":20,"color":"#ffffff"},"encoding":{"y":{"field":"p","type":"quantitative","title":null},"text":{"field":"t"}}},
{"data":{"values":[{"i":26.5,"p":109.62,"t":".com"}]},"mark":{"type":"text","align":"left","baseline":"middle","font":"Open Sans","fontSize":15,"color":"#ffffff"},"encoding":{"y":{"field":"p","type":"quantitative","title":null},"text":{"field":"t"}}},
{"data":{"values":[{"p":109.65,"t":"[","i":3.9},{"p":109.62,"t":"]","i":31.4}]},"mark":{"type":"text","align":"center","baseline":"middle","font":"Open Sans","fontSize":19,"fontWeight":300,"color":"#ffffff"},"encoding":{"y":{"field":"p","type":"quantitative","title":null},"text":{"field":"t"}}},
{"data":{"values":[{"i":0.3,"p":129.0,"t":"▼ EURJPY,Weekly  121.49 122.59 121.30 122.37"}]},"mark":{"type":"text","align":"left","baseline":"middle","fontSize":8.6,"color":"#333333"},"encoding":{"y":{"field":"p","type":"quantitative","title":null},"text":{"field":"t"}}},
{"data":{"values":[{"i":65.4,"p":122.53,"t":"122,08"}]},"mark":{"type":"text","align":"center","baseline":"middle","font":"Liberation Serif","fontWeight":"bold","fontSize":20,"color":"#1b1b55"},"encoding":{"y":{"field":"p","type":"quantitative","title":null},"text":{"field":"t"}}},
{"data":{"name":"wkTicks"},"mark":{"type":"text","align":"left","baseline":"middle","fontSize":8.6,"color":"#333333"},"encoding":{"y":{"field":"p","type":"quantitative","title":null},"text":{"field":"t"}}},
{"data":{"values":[{"i":74.06,"i2":78.6,"p":122.37,"k":"k"},{"i":74.06,"i2":78.6,"p":121.92,"k":"b"},{"i":74.06,"i2":78.6,"p":121.61,"k":"b"},{"i":74.06,"i2":78.6,"p":125.3,"k":"b"},{"i":74.06,"i2":78.6,"p":118.06,"k":"b"},{"i":74.06,"i2":78.6,"p":113.8,"k":"r"}]},"mark":{"type":"rule","strokeWidth":12},"encoding":{"x2":{"field":"i2"},"y":{"field":"p","type":"quantitative","title":null},"color":{"condition":[{"test":"datum.k=='k'","value":"#000000"},{"test":"datum.k=='r'","value":"#8b0f0f"}],"value":"#1414d8"}}},
{"data":{"values":[{"i":74.48,"p":122.37,"t":"122.37"},{"i":74.48,"p":121.92,"t":"121.92"},{"i":74.48,"p":121.61,"t":"121.61"},{"i":74.48,"p":125.3,"t":"125.30"},{"i":74.48,"p":118.06,"t":"118.06"},{"i":74.48,"p":113.8,"t":"113.80"}]},"mark":{"type":"text","align":"left","baseline":"middle","fontSize":8.6,"color":"#ffffff"},"encoding":{"y":{"field":"p","type":"quantitative","title":null},"text":{"field":"t"}}}
]},
{"width":595,"height":504,
"encoding":{"x":{"field":"i","type":"quantitative","title":null,"scale":{"domain":[1.42,84.17],"nice":false,"zero":false,"padding":0},"axis":{"values":[1.5,8,16,24,32,40,48,56,64],"labelAlign":"left","labelPadding":3,"labelOverlap":false,"labelExpr":"datum.value==1.5?'Jan 2017':['7 Feb 2017','17 Feb 2017','1 Mar 2017','13 Mar 2017','23 Mar 2017','4 Apr 2017','14 Apr 2017','26 Apr 2017'][datum.value/8-1]"}}},
"layer":[
{"data":{"name":"dyCloud"},"mark":{"type":"rule","strokeDash":[3,2],"strokeWidth":1,"clip":true},"encoding":{"y":{"field":"top","type":"quantitative","title":null,"scale":{"domain":[114.6,123.76],"nice":false,"zero":false},"axis":{"orient":"right","values":[123.45,122.9,122.35,121.8,121.25,120.7,120.15,119.6,119.05,118.5,117.95,117.4,116.85,116.3,115.75,115.2,114.65],"labels":false}},"y2":{"field":"bot"},"color":{"condition":{"test":"datum.k=='m'","value":"#e040e6"},"value":"#2f2fa8"}}},
{"data":{"name":"dyCloud"},"mark":{"type":"line","strokeDash":[2,2],"strokeWidth":1,"color":"#b57ae6","clip":true},"encoding":{"y":{"field":"top","type":"quantitative","title":null}}},
{"data":{"name":"dyCloud"},"mark":{"type":"line","strokeDash":[2,2],"strokeWidth":1,"color":"#b57ae6","clip":true},"encoding":{"y":{"field":"bot","type":"quantitative","title":null}}},
{"data":{"values":[{"i":32}]},"mark":{"type":"rule","strokeDash":[3,2],"strokeWidth":1,"color":"#8a1a5a"},"encoding":{}},
{"data":{"name":"dyLev"},"mark":{"type":"rule","strokeWidth":1.2},"encoding":{"x":null,"y":{"field":"p","type":"quantitative","title":null},"color":{"condition":{"test":"datum.k=='g'","value":"#3f7f3f"},"value":"#3030b0"}}},
{"data":{"name":"dyC"},"mark":{"type":"line","strokeWidth":1,"color":"#9a9a9a","clip":true},"encoding":{"y":{"field":"v","type":"quantitative","title":null}}},
{"data":{"name":"dyD"},"mark":{"type":"line","strokeWidth":1,"strokeDash":[3,2],"color":"#566b56","clip":true},"encoding":{"detail":{"field":"g"},"y":{"field":"v","type":"quantitative","title":null}}},
{"data":{"name":"dy"},"mark":{"type":"rule","color":"#000000","strokeWidth":1,"clip":true},"encoding":{"y":{"field":"h","type":"quantitative","title":null},"y2":{"field":"l"}}},
{"data":{"name":"dy"},"mark":{"type":"bar","orient":"vertical","size":3.5,"stroke":"#000000","strokeWidth":1,"clip":true},"encoding":{"y":{"field":"o","type":"quantitative","title":null},"y2":{"field":"c"},"color":{"condition":{"test":"datum.c>=datum.o","value":"#ffffff"},"value":"#000000"}}},
{"data":{"name":"dyK"},"mark":{"type":"line","strokeWidth":2,"color":"#1e7a28","clip":true},"encoding":{"y":{"field":"v","type":"quantitative","title":null}}},
{"data":{"name":"dyT"},"mark":{"type":"line","strokeWidth":2,"color":"#dd1f2d","clip":true},"encoding":{"y":{"field":"v","type":"quantitative","title":null}}},
{"data":{"name":"dyTrend"},"mark":{"type":"line","strokeWidth":1.3,"color":"#9a3a9a","clip":true},"encoding":{"y":{"field":"v","type":"quantitative","title":null}}},
{"data":{"values":[{"i":1.0,"p":114.23,"q":123.76}]},"mark":{"type":"rule","color":"#a9d0e4","strokeWidth":6},"encoding":{"y":{"field":"p","type":"quantitative","title":null},"y2":{"field":"q"}}},
{"data":{"values":[{"i":1.42,"p":114.6,"q":123.76}]},"mark":{"type":"rule","color":"#222222","strokeWidth":1},"encoding":{"y":{"field":"p","type":"quantitative","title":null},"y2":{"field":"q"}}},
{"data":{"values":[{"i":1.84,"p":123.69,"t":"EURJPY,Daily  122.41 122.57 122.36 122.37"}]},"mark":{"type":"text","align":"left","baseline":"middle","fontSize":8.6,"color":"#333333"},"encoding":{"y":{"field":"p","type":"quantitative","title":null},"text":{"field":"t"}}},
{"data":{"values":[{"i":77.1,"p":122.27,"t":"122,08"},{"i":75.7,"p":121.09,"t":"120,77"}]},"mark":{"type":"text","align":"center","baseline":"middle","font":"Liberation Serif","fontWeight":"bold","fontSize":20,"color":"#1b1b55"},"encoding":{"y":{"field":"p","type":"quantitative","title":null},"text":{"field":"t"}}},
{"data":{"values":[{"i":26.87,"i2":36.75,"p":114.43}]},"mark":{"type":"rule","strokeWidth":12,"color":"#a52a2a"},"encoding":{"x2":{"field":"i2"},"y":{"field":"p","type":"quantitative","title":null}}},
{"data":{"values":[{"i":31.8,"p":114.43,"t":"2017.03.13 00:00"}]},"mark":{"type":"text","align":"center","baseline":"middle","fontSize":8.7,"color":"#ffffff"},"encoding":{"y":{"field":"p","type":"quantitative","title":null},"text":{"field":"t"}}},
{"data":{"name":"dyTicks"},"mark":{"type":"text","align":"left","baseline":"middle","fontSize":8.6,"color":"#333333"},"encoding":{"y":{"field":"p","type":"quantitative","title":null},"text":{"field":"t"}}},
{"data":{"values":[{"i":84.45,"i2":88.2,"p":122.37,"k":"k"},{"i":84.45,"i2":88.2,"p":122.08,"k":"g"},{"i":84.45,"i2":88.2,"p":121.93,"k":"b"},{"i":84.45,"i2":88.2,"p":121.61,"k":"b"},{"i":84.45,"i2":88.2,"p":120.11,"k":"g"},{"i":84.45,"i2":88.2,"p":118.88,"k":"g"},{"i":84.45,"i2":88.2,"p":118.06,"k":"b"},{"i":84.45,"i2":88.2,"p":117.12,"k":"g"},{"i":84.45,"i2":88.2,"p":116.11,"k":"g"}]},"mark":{"type":"rule","strokeWidth":12},"encoding":{"x2":{"field":"i2"},"y":{"field":"p","type":"quantitative","title":null},"color":{"condition":[{"test":"datum.k=='k'","value":"#000000"},{"test":"datum.k=='g'","value":"#1f8a1f"}],"value":"#1414d8"}}},
{"data":{"values":[{"i":84.86,"p":122.37,"t":"122.37"},{"i":84.86,"p":122.08,"t":"122.08"},{"i":84.86,"p":121.93,"t":"121.93"},{"i":84.86,"p":121.61,"t":"121.61"},{"i":84.86,"p":120.11,"t":"120.11"},{"i":84.86,"p":118.88,"t":"118.88"},{"i":84.86,"p":118.06,"t":"118.06"},{"i":84.86,"p":117.12,"t":"117.12"},{"i":84.86,"p":116.11,"t":"116.11"}]},"mark":{"type":"text","align":"left","baseline":"middle","fontSize":8.6,"color":"#ffffff"},"encoding":{"y":{"field":"p","type":"quantitative","title":null},"text":{"field":"t"}}}
]}
]}
